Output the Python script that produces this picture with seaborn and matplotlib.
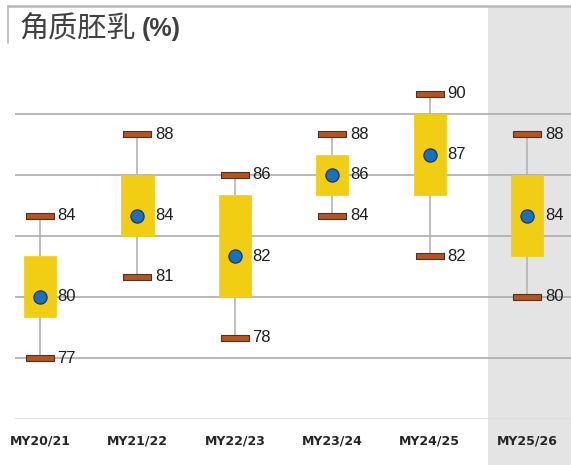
import numpy as np
import pandas as pd
import matplotlib
matplotlib.use("Agg")
import matplotlib.pyplot as plt
import matplotlib.transforms as mtransforms
from matplotlib import font_manager
from matplotlib.patches import Rectangle
from matplotlib.lines import Line2D
import seaborn as sns

# Marketing years and the vitreous-kernel statistics for each one
seasons = ["MY20/21", "MY21/22", "MY22/23", "MY23/24", "MY24/25", "MY25/26"]
low = [77, 81, 78, 84, 82, 80]
q1 = [79, 83, 80, 85, 85, 82]
q3 = [82, 86, 85, 87, 89, 86]
high = [84, 88, 86, 88, 90, 88]
mean = [80, 84, 82, 86, 87, 84]

title_cn = "角质胚乳"
title_unit = "(%)"
y_grid = [74, 77, 80, 83, 86, 89]

BOX = "#f1cd14"
CAP = "#b5541f"
CAP_EDGE = "#4a3428"
DOT = "#1b6fc0"
DOT_EDGE = "#1d3657"
SHADE = "#e4e4e4"

sns.set_style("white")
plt.rcParams["font.family"] = ["DejaVu Sans"]

installed = {f.name for f in font_manager.fontManager.ttflist}
narrow = "Liberation Sans Narrow" if "Liberation Sans Narrow" in installed else "Liberation Sans"
label_size = 13.5 if narrow == "Liberation Sans Narrow" else 12

# Five points per season: the box spans q1..q3, whiskers reach low/high
rows = []
for s, a, b, m, c, d in zip(seasons, low, q1, mean, q3, high):
    for v in (a, b, m, c, d):
        rows.append({"season": s, "value": v})
box_df = pd.DataFrame(rows)

cap_df = pd.DataFrame({"season": seasons * 2, "value": low + high})
mean_df = pd.DataFrame({"season": seasons, "value": mean})

W, H = 571, 465
fig = plt.figure(figsize=(W / 100, H / 100), dpi=100)
ax = fig.add_axes([15 / W, (H - 419) / H, 556 / W, (419 - 53) / H])
ax.patch.set_alpha(0)

sns.boxplot(
    data=box_df, x="season", y="value", order=seasons, ax=ax,
    whis=np.inf, width=0.33, color=BOX, saturation=1, fill=True,
    showcaps=False, linewidth=1.2, linecolor="#b4b4b4",
    boxprops=dict(edgecolor=BOX, facecolor=BOX, linewidth=0.5, zorder=3),
    medianprops=dict(linewidth=0),
    whiskerprops=dict(color="#b4b4b4", linewidth=1.2, zorder=2.5),
)

cap_marker = [(-1, -0.21), (1, -0.21), (1, 0.21), (-1, 0.21), (-1, -0.21)]
sns.stripplot(
    data=cap_df, x="season", y="value", order=seasons, ax=ax,
    jitter=False, marker=cap_marker, size=19.5, color=CAP,
    edgecolor=CAP_EDGE, linewidth=0.8, zorder=4,
)
sns.stripplot(
    data=mean_df, x="season", y="value", order=seasons, ax=ax,
    jitter=False, marker="o", size=9.5, color=DOT,
    edgecolor=DOT_EDGE, linewidth=0.9, zorder=5,
)

label_font = dict(family=[narrow, "DejaVu Sans"], size=label_size, color="#1e1e1e")
for i in range(len(seasons)):
    for v in (low[i], mean[i], high[i]):
        ax.text(i + 0.18, v, f"{v}", ha="left", va="center", zorder=6, **label_font)

ax.set_xlim(-0.2565, 5.448)
ax.set_ylim(74, 92)
ax.set_yticks([])
ax.set_xlabel("")
ax.set_ylabel("")
for sp in ax.spines.values():
    sp.set_visible(False)

for g in y_grid:
    ax.axhline(g, color="#dadada" if g == 74 else "#a6a6a6", linewidth=1.1, zorder=1)

ax.tick_params(axis="x", length=0, pad=11.5)
for t in ax.get_xticklabels():
    t.set_fontweight("bold")
    t.set_fontsize(9)
    t.set_color("#262626")

# Shaded current season column running the full figure height
trans = mtransforms.blended_transform_factory(ax.transData, ax.transAxes)
y0 = (419 - 465) / 366
y1 = (419 - 6) / 366
ax.add_patch(Rectangle((4.597, y0), 1.0, y1 - y0, transform=trans,
                       facecolor=SHADE, edgecolor="none", clip_on=False, zorder=0))

# Title frame and title text
fig.add_artist(Line2D([8 / W, 1], [(H - 6) / H] * 2, color="#b8b8b8", linewidth=1.8))
fig.add_artist(Line2D([8 / W] * 2, [(H - 6) / H, (H - 43) / H], color="#b8b8b8", linewidth=1.2))
fig.text(19 / W, (H - 29) / H, title_cn, ha="left", va="center",
         family=["Noto Sans CJK SC", "DejaVu Sans"], size=21, color="#404040")
fig.text(142 / W, (H - 29) / H, title_unit, ha="left", va="center",
         family=["Liberation Sans", "DejaVu Sans"], weight="bold", size=18, color="#404040")

fig.savefig("out.png", dpi=100)
